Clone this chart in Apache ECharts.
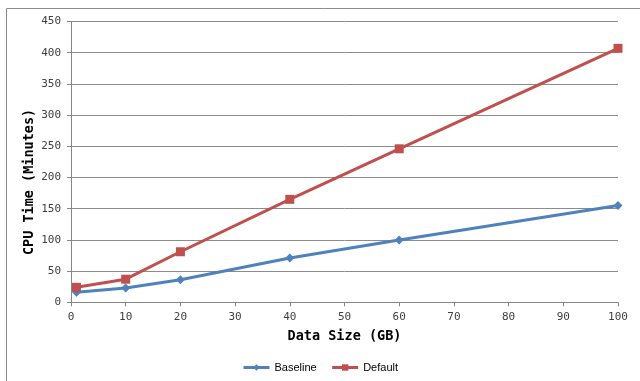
<!DOCTYPE html>
<html>
<head>
<meta charset="utf-8">
<script src="https://cdn.jsdelivr.net/npm/echarts@6/dist/echarts.min.js"></script>
<style>
  html, body { margin: 0; padding: 0; background: #fff; }
  #chart { width: 640px; height: 381px; }
</style>
</head>
<body>
<div id="chart"></div>
<script>
// Data sizes tested (GB) and CPU time measured for each configuration (minutes)
const dataSizes = [1, 10, 20, 40, 60, 100];
const baselineMinutes = [16, 23, 36, 71, 100, 155];
const defaultMinutes = [24, 37, 81, 165, 246, 407];
const seriesNames = ['Baseline', 'Default'];

const chart = echarts.init(document.getElementById('chart'));

const tickFont = { fontFamily: 'DejaVu Sans Mono', fontSize: 11, color: '#404040' };
const titleFont = { fontFamily: 'DejaVu Sans Mono', fontSize: 13.5, fontWeight: 'bold', color: '#000' };

chart.setOption({
  animation: false,
  backgroundColor: '#fff',
  graphic: [{
    // chart frame: left and top edges visible, the rest runs off the canvas
    type: 'rect',
    shape: { x: 6.5, y: 8.5, width: 700, height: 400 },
    style: { fill: 'none', stroke: '#8c8c8c', lineWidth: 1 },
    silent: true
  }],
  grid: { left: 71, right: 22, top: 21.5, bottom: 78.7 },
  legend: {
    data: seriesNames,
    left: 'center',
    top: 357,
    itemWidth: 26,
    itemHeight: 8,
    itemGap: 14,
    lineStyle: { width: 3 },
    textStyle: { fontFamily: 'Liberation Sans', fontSize: 11, color: '#000' }
  },
  xAxis: {
    type: 'value',
    min: 0,
    max: 100,
    interval: 10,
    name: 'Data Size (GB)',
    nameLocation: 'middle',
    nameGap: 27,
    nameMoveOverlap: false,
    nameTextStyle: titleFont,
    axisLine: { lineStyle: { color: '#868686', width: 1 } },
    axisTick: { show: true, length: 4, lineStyle: { color: '#868686' } },
    axisLabel: Object.assign({ margin: 9 }, tickFont),
    splitLine: { show: false }
  },
  yAxis: {
    type: 'value',
    min: 0,
    max: 450,
    interval: 50,
    name: 'CPU Time (Minutes)',
    nameLocation: 'middle',
    nameGap: 35,
    nameMoveOverlap: false,
    nameTextStyle: Object.assign({ padding: [0, 40, 0, 0] }, titleFont),
    axisLine: { show: true, lineStyle: { color: '#868686', width: 1 } },
    axisTick: { show: true, length: 4, lineStyle: { color: '#868686' } },
    axisLabel: Object.assign({ margin: 10 }, tickFont),
    splitLine: { show: true, lineStyle: { color: '#8c8c8c', width: 1 } }
  },
  series: [
    {
      name: seriesNames[0],
      type: 'line',
      data: dataSizes.map((x, i) => [x, baselineMinutes[i]]),
      symbol: 'diamond',
      symbolSize: 9,
      lineStyle: { color: '#4F81BD', width: 3 },
      itemStyle: { color: '#4F81BD' }
    },
    {
      name: seriesNames[1],
      type: 'line',
      data: dataSizes.map((x, i) => [x, defaultMinutes[i]]),
      symbol: 'rect',
      symbolSize: 9,
      lineStyle: { color: '#C0504D', width: 3 },
      itemStyle: { color: '#C0504D' }
    }
  ]
});
</script>
</body>
</html>
